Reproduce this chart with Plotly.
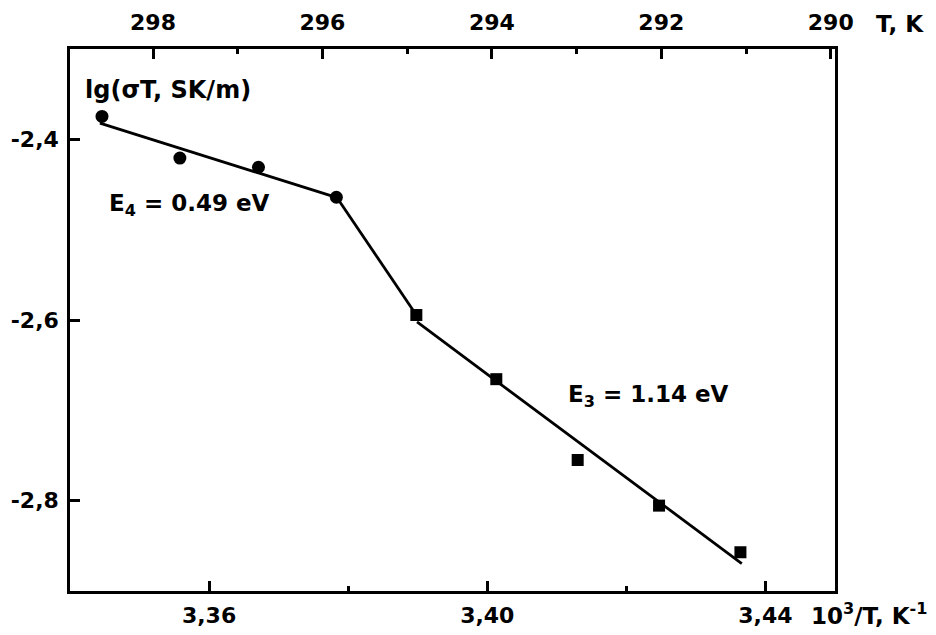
import plotly.graph_objects as go

# ---- data ----
x_circ = [3.3446, 3.3558, 3.3671, 3.3783]
y_circ = [-2.3746, -2.4207, -2.4309, -2.4641]

x_sq = [3.3898, 3.4013, 3.4130, 3.4247, 3.4364]
y_sq = [-2.5945, -2.6655, -2.7550, -2.8055, -2.8571]

fit1_x = [3.3443, 3.3784]
fit1_y = [-2.382, -2.4646]
fit2_x = [3.3784, 3.3897]
fit2_y = [-2.4646, -2.5934]
fit3_x = [3.3899, 3.4366]
fit3_y = [-2.6022, -2.8696]

x_ticks = [3.36, 3.40, 3.44]
x_ticktext = ["3,36", "3,40", "3,44"]
x_minor = [3.38, 3.42]

y_ticks = [-2.4, -2.6, -2.8]
y_ticktext = ["-2,4", "-2,6", "-2,8"]

t_ticks = [298, 296, 294, 292, 290]
t_ticktext = ["298", "296", "294", "292", "290"]
t_minor = [297, 295, 293, 291]

FONT = "DejaVu Sans, Liberation Sans, Arial, sans-serif"
FS_TICK = 22
FS_ANN = 23

fig = go.Figure()

for fx, fy in [(fit1_x, fit1_y), (fit2_x, fit2_y), (fit3_x, fit3_y)]:
    fig.add_trace(go.Scatter(x=fx, y=fy, mode="lines",
                             line=dict(color="black", width=2.8),
                             hoverinfo="skip", showlegend=False))

fig.add_trace(go.Scatter(x=x_circ, y=y_circ, mode="markers",
                         marker=dict(symbol="circle", size=13, color="black"),
                         showlegend=False))
fig.add_trace(go.Scatter(x=x_sq, y=y_sq, mode="markers",
                         marker=dict(symbol="square", size=12, color="black"),
                         showlegend=False))
# dummy trace to anchor the top temperature axis
fig.add_trace(go.Scatter(x=[295], y=[-2.6], xaxis="x2", mode="markers",
                         marker=dict(opacity=0), hoverinfo="skip",
                         showlegend=False))

tickfont = dict(family=FONT, size=FS_TICK, color="black", weight="bold")

# the page body has an 8 px margin, so the figure is 8 px smaller and the
# left/top margins are reduced by the same amount
fig.update_layout(
    width=928, height=627,
    margin=dict(l=62, r=101, t=41, b=44, autoexpand=False),
    paper_bgcolor="white", plot_bgcolor="white",
    showlegend=False,
    xaxis=dict(
        range=[3.34, 3.45], showgrid=False, zeroline=False,
        showline=True, linecolor="black", linewidth=2.5,
        ticks="inside", ticklen=10, tickwidth=2.5, tickcolor="black",
        tickvals=x_ticks, ticktext=x_ticktext, tickfont=tickfont,
        ticklabelstandoff=3,
        minor=dict(tickvals=x_minor, ticks="inside", ticklen=5,
                   tickwidth=2.5, tickcolor="black", showgrid=False),
    ),
    xaxis2=dict(
        overlaying="x", side="top", range=[298.98, 289.95],
        showgrid=False, zeroline=False,
        showline=True, linecolor="black", linewidth=2.5,
        ticks="inside", ticklen=10, tickwidth=2.5, tickcolor="black",
        tickvals=t_ticks, ticktext=t_ticktext, tickfont=tickfont,
        ticklabelstandoff=7,
        minor=dict(tickvals=t_minor, ticks="inside", ticklen=5,
                   tickwidth=2.5, tickcolor="black", showgrid=False),
    ),
    yaxis=dict(
        range=[-2.9, -2.3], showgrid=False, zeroline=False,
        showline=True, mirror=True, linecolor="black", linewidth=2.5,
        ticks="inside", ticklen=10, tickwidth=2.5, tickcolor="black",
        tickvals=y_ticks, ticktext=y_ticktext, tickfont=tickfont,
        ticklabelstandoff=4,
    ),
)

ann_font = dict(family=FONT, size=FS_ANN, color="black", weight="bold")
annotations = [
    dict(text="lg(σT, SK/m)", x=0.017, y=0.924, size=24),
    dict(text="E<sub>4</sub> = 0.49 eV", x=0.048, y=0.713, size=FS_ANN),
    dict(text="E<sub>3</sub> = 1.14 eV", x=0.649, y=0.360, size=FS_ANN),
    dict(text="10<sup>3</sup>/T, K<sup>-1</sup>", x=0.966, y=-0.043, size=FS_ANN),
    dict(text="T, K", x=1.051, y=1.047, size=FS_ANN),
]
for a in annotations:
    sz = a.pop("size")
    f = dict(ann_font, size=sz)
    fig.add_annotation(xref="paper", yref="paper", xanchor="left",
                       yanchor="middle", showarrow=False, font=f, **a)

fig.write_html("out.html")
